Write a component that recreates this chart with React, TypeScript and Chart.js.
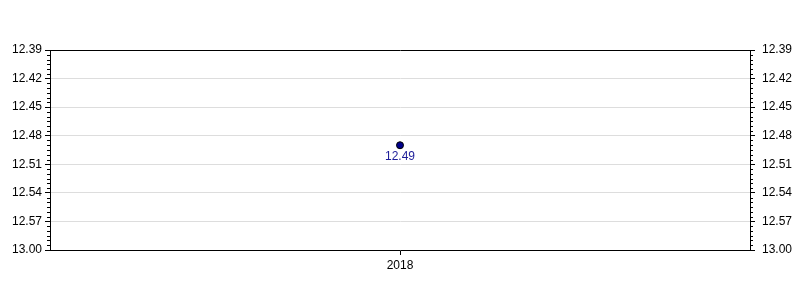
import React, { useEffect, useRef } from "react";
import { Chart, registerables } from "chart.js";

Chart.register(...registerables);

const categories = ["2018"];
const seriesValues = [12.49];
const yTickValues = [12.39, 12.42, 12.45, 12.48, 12.51, 12.54, 12.57, 12.6];
const yTickLabels = ["12.39", "12.42", "12.45", "12.48", "12.51", "12.54", "12.57", "13.00"];
const yMin = 12.39;
const yMax = 12.6;
const minorStep = 0.005;

const FONT = "Arial, 'Liberation Sans', sans-serif";

function labelFor(v: number) {
  for (let i = 0; i < yTickValues.length; i++) {
    if (Math.abs(yTickValues[i] - v) < 1e-6) return yTickLabels[i];
  }
  return v.toFixed(2);
}

const extrasPlugin = {
  id: "extras",
  afterDraw(chart: any) {
    const ctx = chart.ctx;
    const y = chart.scales.y;
    const area = chart.chartArea;
    ctx.save();
    ctx.strokeStyle = "#000";
    ctx.lineWidth = 1;
    const n = Math.round((yMax - yMin) / minorStep);
    for (let i = 0; i <= n; i++) {
      if (i % 6 === 0) continue;
      const v = yMin + i * minorStep;
      const py = Math.round(y.getPixelForValue(v)) + 0.5;
      ctx.beginPath();
      ctx.moveTo(area.left - 3, py);
      ctx.lineTo(area.left, py);
      ctx.moveTo(area.right, py);
      ctx.lineTo(area.right + 3, py);
      ctx.stroke();
    }
    const meta = chart.getDatasetMeta(0);
    ctx.fillStyle = "#1c1c99";
    ctx.font = "12px " + FONT;
    ctx.textAlign = "center";
    ctx.textBaseline = "top";
    meta.data.forEach((pt: any, i: number) => {
      ctx.fillText(seriesValues[i].toFixed(2), pt.x, pt.y + 5);
    });
    ctx.restore();
  },
};

export default function App() {
  const ref = useRef<HTMLCanvasElement>(null);
  useEffect(() => {
    if (!ref.current) return;
    const tickCb = (v: any) => labelFor(Number(v));
    const setTicks = (scale: any) => {
      scale.ticks = yTickValues.map((v) => ({ value: v }));
    };
    const chart = new Chart(ref.current, {
      type: "line",
      data: {
        labels: categories,
        datasets: [
          {
            data: seriesValues,
            borderColor: "#000",
            backgroundColor: "#00008b",
            pointBackgroundColor: "#00008b",
            pointBorderColor: "#000",
            pointBorderWidth: 1,
            pointRadius: 3.5,
            showLine: false,
          },
        ],
      },
      options: {
        animation: false,
        responsive: false,
        maintainAspectRatio: false,
        layout: { padding: { top: 50, left: 0, right: 0, bottom: 0 } },
        plugins: { legend: { display: false }, tooltip: { enabled: false } },
        scales: {
          x: {
            type: "category",
            offset: true,
            grid: {
              display: true,
              offset: false,
              drawOnChartArea: false,
              drawTicks: true,
              tickLength: 5,
              tickColor: "#000",
            },
            border: { display: true, color: "#000", width: 1 },
            ticks: { color: "#000", font: { family: FONT, size: 12 }, padding: 3, maxRotation: 0 },
            afterFit: (s: any) => {
              s.height = 50;
            },
          },
          y: {
            type: "linear",
            position: "left",
            reverse: true,
            min: yMin,
            max: yMax,
            afterBuildTicks: setTicks,
            grid: {
              color: (c: any) => (c.index === 0 ? "#000" : "#dddddd"),
              tickColor: "#000",
              tickLength: 5,
              lineWidth: 1,
            },
            border: { display: true, color: "#000", width: 1 },
            ticks: { color: "#000", font: { family: FONT, size: 12 }, padding: 3, callback: tickCb },
            afterFit: (s: any) => {
              s.width = 50;
            },
          },
          y2: {
            type: "linear",
            position: "right",
            reverse: true,
            min: yMin,
            max: yMax,
            afterBuildTicks: setTicks,
            grid: {
              drawOnChartArea: false,
              tickColor: "#000",
              tickLength: 5,
            },
            border: { display: true, color: "#000", width: 1 },
            ticks: { color: "#000", font: { family: FONT, size: 12 }, padding: 7, callback: tickCb },
            afterFit: (s: any) => {
              s.width = 50;
            },
          },
        },
      },
      plugins: [extrasPlugin],
    } as any);
    return () => chart.destroy();
  }, []);
  return (
    <div style={{ position: "fixed", left: 0, top: 0, width: 800, height: 300, background: "#fff" }}>
      <canvas ref={ref} width={800} height={300} style={{ width: 800, height: 300 }} />
    </div>
  );
}
